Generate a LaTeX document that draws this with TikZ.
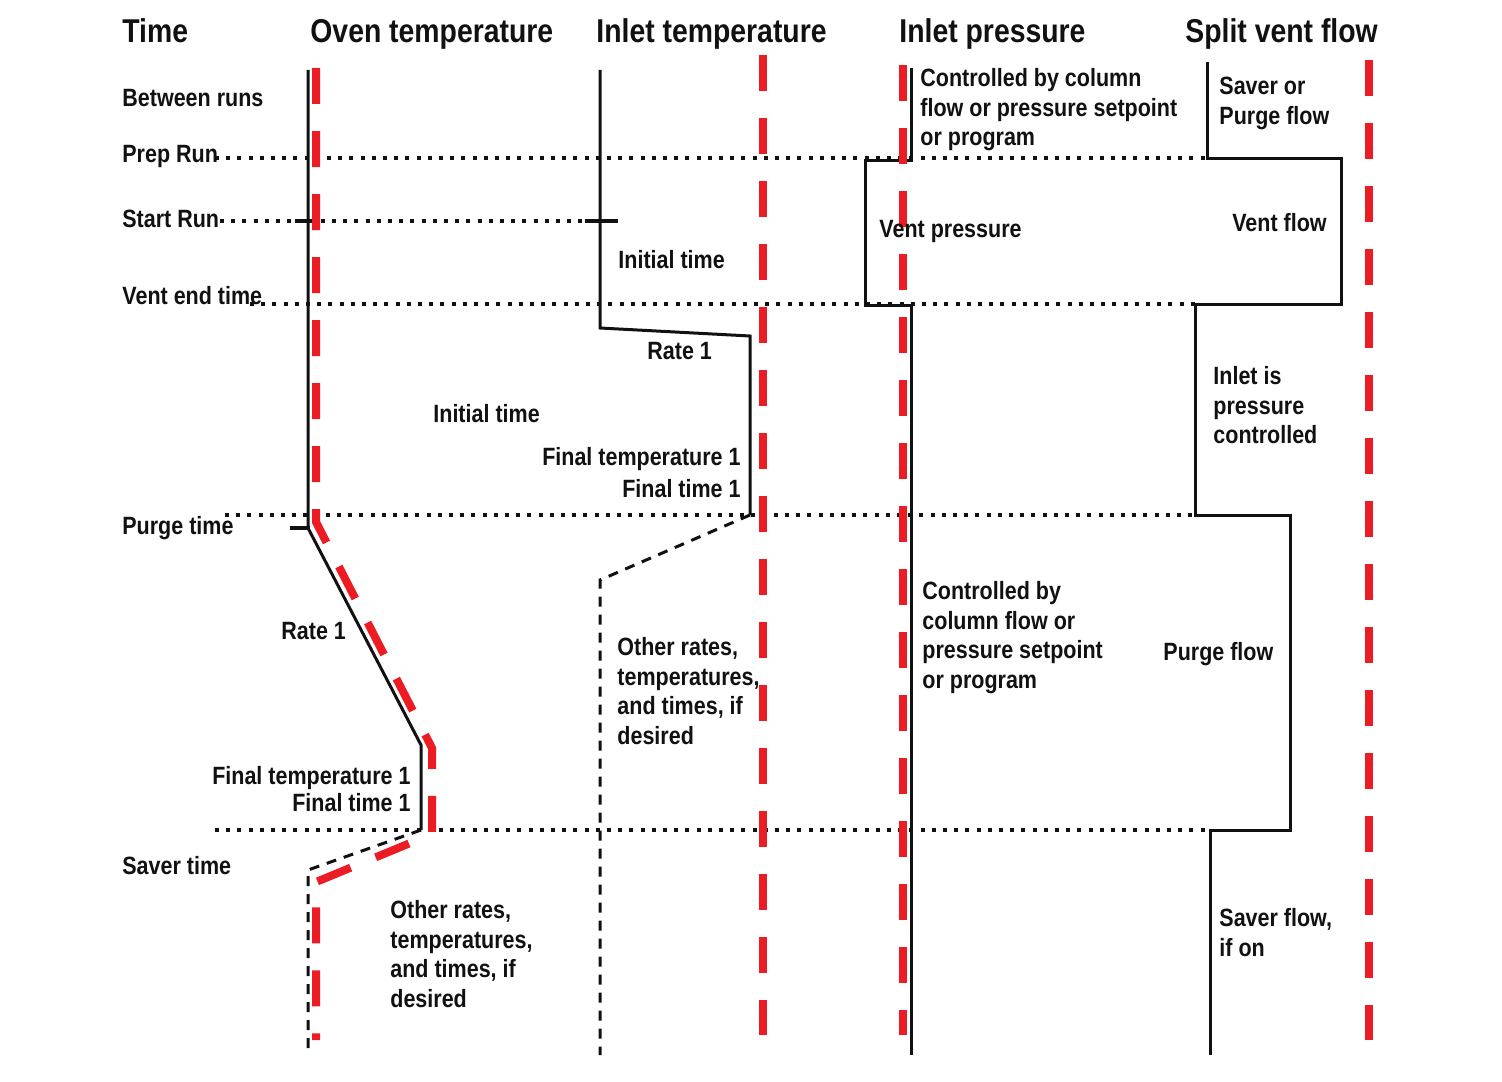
\documentclass[tikz,border=0pt]{standalone}
\usepackage{fontspec}
\setmainfont{Liberation Sans}[FakeStretch=0.86]
\usepackage{xcolor}
\definecolor{runred}{HTML}{EC1C24}
\definecolor{ink}{HTML}{111111}

\begin{document}
\begin{tikzpicture}[
 x=0.5pt,y=-0.5pt,
 every node/.style={inner sep=0pt,align=left,text=ink,font=\bfseries\fontsize{12.5}{14.75}\selectfont},
 thead/.style={anchor=base west,font=\bfseries\fontsize{16.5}{19}\selectfont},
 trow/.style={anchor=base west},
 tnote/.style={anchor=north west},
 tright/.style={anchor=base east},
 tline/.style={draw=ink,line width=1.5pt,line join=miter},
 ttick/.style={draw=ink,line width=2pt},
 tdash/.style={draw=ink,line width=1.5pt,dash pattern=on 5pt off 4pt},
 tdot/.style={draw=ink,line width=2pt,dash pattern=on 2pt off 3.6pt},
 tred/.style={draw=runred,line width=4pt,dash pattern=on 18pt off 13.5pt}]
\useasboundingbox (0,0) rectangle (1502,1081);
% column and row titles
\node[thead] (time) at (122,43) {Time};
\node[thead] (oven) at (310,43) {Oven temperature};
\node[thead] (inlett) at (596,43) {Inlet temperature};
\node[thead] (inletp) at (899,43) {Inlet pressure};
\node[thead] (split) at (1185,43) {Split vent flow};
\node[trow] (between) at (122,106) {Between runs};
\node[trow] (prep) at (122,162) {Prep Run};
\node[trow] (start) at (122,227) {Start Run};
\node[trow] (ventend) at (122,304) {Vent end time};
\node[trow] (purge) at (122,534) {Purge time};
\node[trow] (saver) at (122,874) {Saver time};
% time marks
\draw[tdot] (215,158) -- (1207,158);
\draw[tdot] (220,221) -- (600,221);
\draw[tdot] (250,304) -- (1195,304);
\draw[tdot] (225,515) -- (1195,515);
\draw[tdot] (215,830) -- (1210,830);
% oven temperature
\draw[tline] (308,70) -- (308,528) -- (421,745) -- (421,830);
\draw[tdash] (421,830) -- (308,870) -- (308,1055);
\draw[ttick] (290,528) -- (310,528);
\draw[ttick] (295,221) -- (320,221);
% inlet temperature
\draw[tline] (600,70) -- (600,328) -- (750,336) -- (750,515);
\draw[tdash] (750,515) -- (600,580) -- (600,1055);
\draw[ttick] (585,221) -- (618,221);
% inlet pressure
\draw[tline] (911,68) -- (911,160) -- (865,160) -- (865,305) -- (911,305) -- (911,1055);
% split vent flow
\draw[tline] (1207,62) -- (1207,158) -- (1341,158) -- (1341,304) -- (1195,304)
 -- (1195,515) -- (1290,515) -- (1290,830) -- (1210,830) -- (1210,1055);
% red guides
\draw[tred] (316,68) -- (316,522) -- (432,748) -- (432,834) -- (316,882) -- (316,1040);
\draw[tred] (763,55) -- (763,1035);
\draw[tred] (903,65) -- (903,1035);
\draw[tred] (1369,60) -- (1369,1040);
% labels
\node[tnote] (ctrltop) at (920,68) {Controlled by column\\flow or pressure setpoint\\or program};
\node[tnote] (saverpurge) at (1219,77) {Saver or\\Purge flow};
\node[trow] (ventp) at (879,237) {Vent pressure};
\node[tright] (ventf) at (1327,231) {Vent flow};
\node[trow] (inittemp) at (618,268) {Initial time};
\node[trow] (rateinlet) at (647,359) {Rate 1};
\node[trow] (initoven) at (433,422) {Initial time};
\node[tright] (fintempinlet) at (741,465) {Final temperature 1};
\node[tright] (fintimeinlet) at (741,497) {Final time 1};
\node[tnote] (pressctrl) at (1213,366) {Inlet is\\pressure\\controlled};
\node[trow] (rateoven) at (281,639) {Rate 1};
\node[tright] (fintempoven) at (411,784) {Final temperature 1};
\node[tright] (fintimeoven) at (411,811) {Final time 1};
\node[tnote] (otherinlet) at (617,637) {Other rates,\\temperatures,\\and times, if\\desired};
\node[tnote] (ctrlmid) at (922,581) {Controlled by\\column flow or\\pressure setpoint\\or program};
\node[trow] (purgeflow) at (1163,660) {Purge flow};
\node[tnote] (saverflow) at (1219,908) {Saver flow,\\if on};
\node[tnote] (otheroven) at (390,900) {Other rates,\\temperatures,\\and times, if\\desired};
\end{tikzpicture}
\end{document}
